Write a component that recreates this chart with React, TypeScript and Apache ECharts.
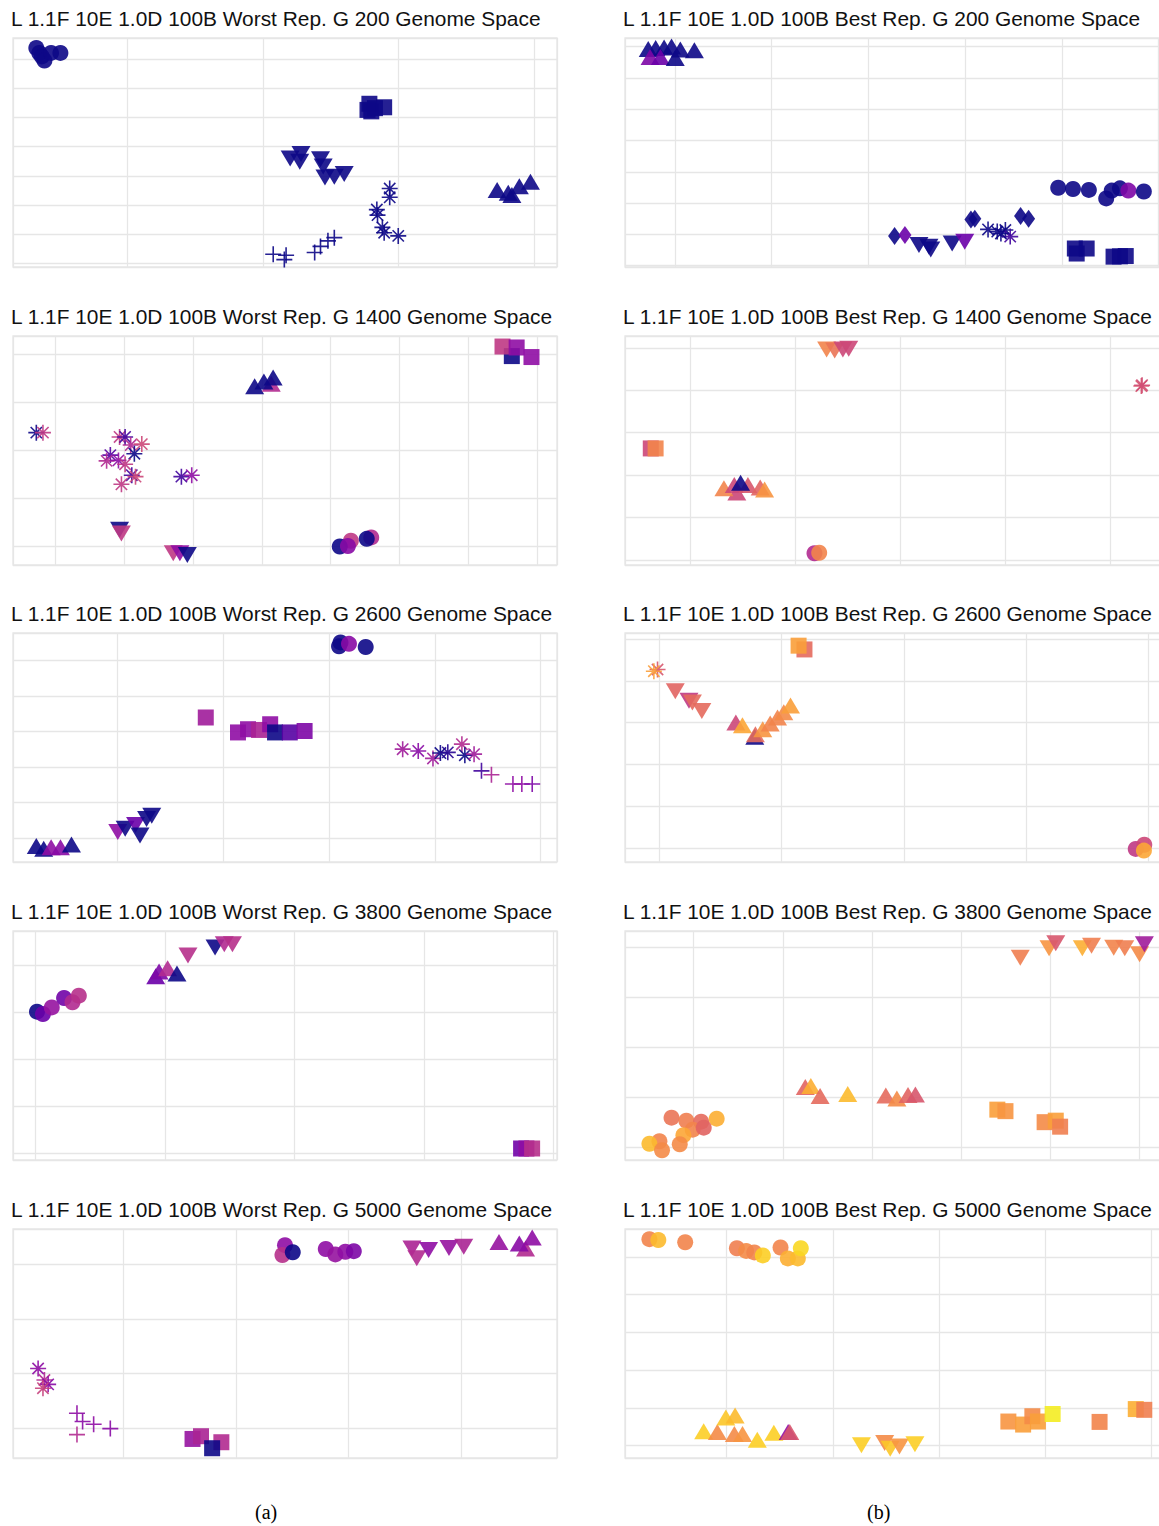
import React, { useEffect, useRef } from "react";
import * as echarts from "echarts";

// plasma colour scale (value 0 .. 1)
const PLASMA = ["#0d0887", "#41049d", "#6a00a8", "#8f0da4", "#b12a90", "#cc4778", "#e16462", "#f2844b", "#fca636", "#fcce25", "#f0f921"];

// ---------- Worst Rep. G 200 ----------
const W200_X = [-0.847, 3.169];
const W200_Y = [-0.114, 7.72];
const W200_CIRCLE = [[-0.675, 7.38, 0], [-0.653, 7.21, 0], [-0.634, 7.09, 0], [-0.615, 6.95, 0], [-0.566, 7.21, 0], [-0.497, 7.21, 0]];
const W200_SQUARE = [[1.784, 5.47, 0], [1.798, 5.21, 0], [1.893, 5.35, 0], [1.825, 5.32, 0], [1.77, 5.26, 0]];
const W200_TRIDOWN = [[1.199, 3.6, 0], [1.279, 3.75, 0], [1.27, 3.49, 0], [1.423, 3.57, 0], [1.443, 3.32, 0], [1.456, 2.95, 0], [1.525, 2.97, 0], [1.598, 3.07, 0]];
const W200_TRIUP = [[2.727, 2.52, 0], [2.809, 2.43, 0], [2.836, 2.35, 0], [2.891, 2.65, 0], [2.973, 2.8, 0]];
const W200_ASTER = [[1.934, 2.57, 0], [1.934, 2.27, 0], [1.839, 1.85, 0], [1.844, 1.66, 0], [1.88, 1.24, 0], [1.893, 1.06, 0], [1.997, 0.95, 0]];
const W200_PLUS = [[1.074, 0.32, 0], [1.169, 0.29, 0], [1.156, 0.14, 0], [1.38, 0.38, 0], [1.423, 0.59, 0], [1.478, 0.78, 0], [1.525, 0.89, 0]];

// ---------- Best Rep. G 200 ----------
const B200_X = [-0.515, 5.107];
const B200_Y = [-0.04, 7.27];
const B200_TRIUP = [[-0.275, 6.92, 0], [-0.198, 6.95, 0], [-0.111, 6.97, 0], [-0.034, 7.0, 0], [0.057, 6.9, 0], [0.202, 6.88, 0], [-0.256, 6.66, 0.25], [-0.149, 6.66, 0.2], [0.004, 6.63, 0]];
const B200_CIRCLE = [[3.962, 2.49, 0], [4.115, 2.45, 0], [4.279, 2.42, 0], [4.458, 2.15, 0], [4.515, 2.4, 0], [4.6, 2.47, 0], [4.687, 2.4, 0.25], [4.847, 2.37, 0]];
const B200_DIAMOND = [[2.271, 0.95, 0], [2.378, 0.98, 0.2], [3.06, 1.48, 0], [3.1, 1.5, 0], [3.573, 1.59, 0], [3.656, 1.5, 0]];
const B200_TRIDOWN = [[2.523, 0.66, 0], [2.626, 0.61, 0], [2.645, 0.52, 0], [2.866, 0.71, 0], [2.996, 0.77, 0.2]];
const B200_ASTER = [[3.237, 1.16, 0], [3.332, 1.09, 0], [3.416, 1.14, 0], [3.466, 0.93, 0.1], [3.37, 1.03, 0]];
const B200_SQUARE = [[4.134, 0.55, 0], [4.256, 0.55, 0], [4.153, 0.39, 0], [4.534, 0.29, 0], [4.6, 0.3, 0], [4.66, 0.31, 0]];

// ---------- Worst Rep. G 1400 ----------
const W1400_X = [-0.606, 7.28];
const W1400_Y = [-0.397, 4.39];
const W1400_SQUARE = [[6.625, 3.97, 0], [6.49, 4.17, 0.45], [6.695, 4.15, 0.3], [6.91, 3.95, 0.3]];
const W1400_TRIUP = [[2.897, 3.34, 0], [3.138, 3.39, 0.4], [3.031, 3.44, 0], [3.165, 3.52, 0]];
const W1400_ASTER = [[-0.268, 2.37, 0], [-0.172, 2.37, 0.45], [0.939, 2.28, 0.45], [1.019, 2.28, 0.1], [1.1, 2.11, 0.4], [1.261, 2.13, 0.5], [1.153, 1.93, 0], [0.805, 1.9, 0.15], [0.751, 1.78, 0.4], [0.923, 1.79, 0.3], [1.019, 1.71, 0.45], [1.116, 1.48, 0.1], [1.17, 1.45, 0.5], [0.966, 1.29, 0.45], [1.835, 1.45, 0.1], [1.985, 1.48, 0.3]];
const W1400_TRIDOWN = [[0.939, 0.34, 0], [0.965, 0.26, 0.45], [1.717, -0.15, 0.45], [1.813, -0.15, 0.3], [1.921, -0.19, 0]];
const W1400_CIRCLE = [[4.292, 0.11, 0.45], [4.131, -0.01, 0], [4.249, 0.0, 0.28], [4.587, 0.18, 0.4], [4.522, 0.15, 0]];

// ---------- Best Rep. G 1400 ----------
const B1400_X = [-0.627, 4.564];
const B1400_Y = [-0.118, 5.28];
const B1400_TRIDOWN = [[1.297, 4.96, 0.7], [1.374, 4.94, 0.65], [1.452, 4.96, 0.5], [1.508, 4.98, 0.5]];
const B1400_ASTER = [[4.3, 4.1, 0.55], [4.307, 4.12, 0.52]];
const B1400_SQUARE = [[-0.381, 2.63, 0.5], [-0.335, 2.63, 0.7]];
const B1400_TRIUP = [[0.44, 1.59, 0.5], [0.317, 1.69, 0.7], [0.416, 1.77, 0.5], [0.546, 1.77, 0.55], [0.663, 1.71, 0.6], [0.705, 1.66, 0.75], [0.476, 1.82, 0]];
const B1400_CIRCLE = [[1.181, 0.16, 0.4], [1.226, 0.17, 0.7]];

// ---------- Worst Rep. G 2600 ----------
const W2600_X = [-0.982, 4.154];
const W2600_Y = [-0.672, 5.765];
const W2600_CIRCLE = [[2.11, 5.5, 0], [2.096, 5.39, 0], [2.19, 5.46, 0.28], [2.348, 5.37, 0]];
const W2600_SQUARE = [[0.838, 3.39, 0.35], [1.142, 2.97, 0.3], [1.237, 3.06, 0.3], [1.341, 3.04, 0.38], [1.446, 3.2, 0.3], [1.492, 2.97, 0], [1.631, 2.97, 0.15], [1.771, 3.01, 0.25]];
const W2600_ASTER = [[2.697, 2.5, 0.35], [2.844, 2.45, 0.28], [2.983, 2.24, 0.35], [3.053, 2.39, 0], [3.123, 2.41, 0.05], [3.256, 2.64, 0.4], [3.284, 2.33, 0], [3.371, 2.36, 0.35]];
const W2600_PLUS = [[3.441, 1.89, 0.1], [3.535, 1.78, 0.38], [3.738, 1.52, 0.3], [3.822, 1.52, 0.3], [3.92, 1.52, 0.25]];
const W2600_TRIDOWN = [[0.007, 0.17, 0.3], [0.077, 0.26, 0], [0.175, 0.37, 0.2], [0.217, 0.07, 0], [0.279, 0.54, 0], [0.328, 0.63, 0]];
const W2600_TRIUP = [[-0.762, -0.22, 0], [-0.692, -0.3, 0], [-0.622, -0.26, 0.3], [-0.534, -0.26, 0.28], [-0.43, -0.18, 0]];

// ---------- Best Rep. G 2600 ----------
const B2600_X = [-0.281, 4.166];
const B2600_Y = [-0.333, 5.143];
const B2600_SQUARE = [[1.186, 4.75, 0.62], [1.138, 4.84, 0.78]];
const B2600_ASTER = [[-0.015, 4.27, 0.55], [-0.045, 4.23, 0.78]];
const B2600_TRIDOWN = [[0.13, 3.75, 0.6], [0.242, 3.52, 0.45], [0.27, 3.48, 0.62], [0.347, 3.28, 0.62]];
const B2600_TRIUP = [[0.78, 2.66, 0], [0.625, 3.0, 0.5], [0.679, 2.94, 0.8], [0.785, 2.72, 0.62], [0.845, 2.84, 0.75], [0.906, 2.98, 0.7], [0.966, 3.12, 0.7], [1.017, 3.25, 0.72], [1.072, 3.41, 0.78]];
const B2600_CIRCLE = [[3.894, -0.02, 0.45], [3.964, 0.08, 0.5], [3.961, -0.06, 0.8]];

// ---------- Worst Rep. G 3800 ----------
const W3800_X = [-0.171, 4.026];
const W3800_Y = [-0.134, 4.72];
const W3800_CIRCLE = [[0.014, 3.01, 0], [0.06, 2.96, 0.2], [0.128, 3.1, 0.32], [0.223, 3.3, 0.22], [0.288, 3.21, 0.4], [0.337, 3.35, 0.42]];
const W3800_TRIUP = [[0.93, 3.76, 0.2], [0.956, 3.86, 0.25], [1.022, 3.93, 0.4], [1.094, 3.82, 0]];
const W3800_TRIDOWN = [[1.179, 4.2, 0.42], [1.388, 4.37, 0], [1.459, 4.44, 0.4], [1.522, 4.44, 0.42]];
const W3800_SQUARE = [[3.749, 0.11, 0.22], [3.79, 0.11, 0.3], [3.834, 0.11, 0.42]];

// ---------- Best Rep. G 3800 ----------
const B3800_X = [-0.771, 5.33];
const B3800_Y = [-0.245, 4.325];
const B3800_TRIDOWN = [[3.662, 3.79, 0.68], [3.985, 3.98, 0.75], [4.06, 4.08, 0.55], [4.358, 3.98, 0.82], [4.461, 4.03, 0.68], [4.71, 3.99, 0.7], [4.834, 3.98, 0.68], [5.0, 3.86, 0.72], [5.054, 4.06, 0.35]];
const B3800_TRIUP = [[1.251, 1.21, 0.6], [1.313, 1.23, 0.82], [1.417, 1.03, 0.62], [1.727, 1.07, 0.85], [2.154, 1.04, 0.62], [2.278, 0.98, 0.72], [2.403, 1.05, 0.6], [2.486, 1.06, 0.55]];
const B3800_SQUARE = [[3.405, 0.76, 0.78], [3.496, 0.73, 0.75], [3.935, 0.51, 0.72], [4.06, 0.54, 0.78], [4.109, 0.42, 0.68]];
const B3800_CIRCLE = [[-0.249, 0.6, 0.65], [-0.083, 0.54, 0.68], [0.083, 0.52, 0.62], [0.257, 0.58, 0.82], [-0.012, 0.36, 0.7], [0.112, 0.4, 0.6], [-0.116, 0.25, 0.8], [-0.157, 0.07, 0.72], [-0.385, 0.13, 0.7], [-0.497, 0.08, 0.85], [-0.356, -0.05, 0.72]];

// ---------- Worst Rep. G 5000 ----------
const W5000_X = [-0.979, 3.851];
const W5000_Y = [-0.549, 3.646];
const W5000_CIRCLE = [[1.436, 3.35, 0.3], [1.413, 3.17, 0.42], [1.505, 3.22, 0], [1.798, 3.28, 0.3], [1.883, 3.18, 0.32], [1.972, 3.23, 0.3], [2.047, 3.24, 0.25]];
const W5000_TRIDOWN = [[2.563, 3.29, 0.38], [2.606, 3.11, 0.4], [2.711, 3.26, 0.3], [2.892, 3.3, 0.32], [3.023, 3.32, 0.38]];
const W5000_TRIUP = [[3.336, 3.41, 0.32], [3.572, 3.29, 0.4], [3.516, 3.38, 0.28], [3.631, 3.49, 0.3]];
const W5000_ASTER = [[-0.756, 1.09, 0.3], [-0.7, 0.88, 0.4], [-0.667, 0.8, 0.28], [-0.713, 0.73, 0.48]];
const W5000_PLUS = [[-0.411, 0.27, 0.3], [-0.361, 0.12, 0.28], [-0.263, 0.07, 0.3], [-0.115, -0.01, 0.28], [-0.411, -0.12, 0.4]];
const W5000_SQUARE = [[0.615, -0.2, 0.32], [0.69, -0.15, 0.38], [0.871, -0.26, 0.4], [0.789, -0.37, 0]];

// ---------- Best Rep. G 5000 ----------
const B5000_X = [-0.957, 4.167];
const B5000_Y = [-0.326, 5.74];
const B5000_CIRCLE = [[-0.727, 5.47, 0.7], [-0.643, 5.45, 0.85], [-0.39, 5.39, 0.7], [0.097, 5.23, 0.68], [0.184, 5.16, 0.72], [0.261, 5.12, 0.7], [0.341, 5.04, 0.9], [0.508, 5.25, 0.7], [0.577, 4.96, 0.82], [0.671, 4.96, 0.85], [0.699, 5.23, 0.92]];
const B5000_TRIUP = [[-0.216, 0.38, 0.9], [-0.087, 0.36, 0.72], [-0.007, 0.75, 0.88], [0.08, 0.8, 0.85], [0.073, 0.31, 0.72], [0.15, 0.31, 0.75], [0.289, 0.16, 0.9], [0.445, 0.34, 0.9], [0.58, 0.36, 0.3], [0.595, 0.36, 0.55]];
const B5000_TRIDOWN = [[1.27, 0.01, 0.9], [1.489, 0.07, 0.72], [1.541, -0.08, 0.88], [1.628, -0.02, 0.75], [1.774, 0.04, 0.9]];
const B5000_SQUARE = [[2.654, 0.64, 0.75], [2.793, 0.56, 0.78], [2.88, 0.78, 0.72], [2.932, 0.64, 0.78], [3.071, 0.84, 0.97], [3.513, 0.63, 0.7], [3.854, 0.97, 0.82], [3.934, 0.95, 0.68]];

const TITLE_PREFIX = "L 1.1F 10E 1.0D 100B";
const GENERATIONS = [200, 1400, 2600, 3800, 5000];
const REPS = ["Worst", "Best"];
const CAPTIONS = ["(a)", "(b)"];

const ASTERISK_PATH =
  "path://M9,0H11V9H20V11H11V20H9V11H0V9H9Z M3.64,2.22L17.78,16.36L16.36,17.78L2.22,3.64Z M17.78,3.64L3.64,17.78L2.22,16.36L16.36,2.22Z";
const PLUS_PATH = "path://M9,0H11V9H20V11H11V20H9V11H0V9H9Z";

const SHAPES: Record<string, { symbol: string; size: any }> = {
  circle: { symbol: "circle", size: 16 },
  square: { symbol: "rect", size: 16 },
  triUp: { symbol: "triangle", size: [19, 16] },
  triDown: { symbol: "path://M0,0L19,0L9.5,16Z", size: [19, 16] },
  diamond: { symbol: "diamond", size: [13, 18] },
  asterisk: { symbol: ASTERISK_PATH, size: 16 },
  plus: { symbol: PLUS_PATH, size: 16 },
};

const PANELS = [
  { rep: 0, row: 0, x: W200_X, y: W200_Y, layers: [["circle", W200_CIRCLE], ["square", W200_SQUARE], ["triDown", W200_TRIDOWN], ["triUp", W200_TRIUP], ["asterisk", W200_ASTER], ["plus", W200_PLUS]] },
  { rep: 1, row: 0, x: B200_X, y: B200_Y, layers: [["triUp", B200_TRIUP], ["circle", B200_CIRCLE], ["diamond", B200_DIAMOND], ["triDown", B200_TRIDOWN], ["asterisk", B200_ASTER], ["square", B200_SQUARE]] },
  { rep: 0, row: 1, x: W1400_X, y: W1400_Y, layers: [["square", W1400_SQUARE], ["triUp", W1400_TRIUP], ["asterisk", W1400_ASTER], ["triDown", W1400_TRIDOWN], ["circle", W1400_CIRCLE]] },
  { rep: 1, row: 1, x: B1400_X, y: B1400_Y, layers: [["triDown", B1400_TRIDOWN], ["asterisk", B1400_ASTER], ["square", B1400_SQUARE], ["triUp", B1400_TRIUP], ["circle", B1400_CIRCLE]] },
  { rep: 0, row: 2, x: W2600_X, y: W2600_Y, layers: [["circle", W2600_CIRCLE], ["square", W2600_SQUARE], ["asterisk", W2600_ASTER], ["plus", W2600_PLUS], ["triDown", W2600_TRIDOWN], ["triUp", W2600_TRIUP]] },
  { rep: 1, row: 2, x: B2600_X, y: B2600_Y, layers: [["square", B2600_SQUARE], ["asterisk", B2600_ASTER], ["triDown", B2600_TRIDOWN], ["triUp", B2600_TRIUP], ["circle", B2600_CIRCLE]] },
  { rep: 0, row: 3, x: W3800_X, y: W3800_Y, layers: [["circle", W3800_CIRCLE], ["triUp", W3800_TRIUP], ["triDown", W3800_TRIDOWN], ["square", W3800_SQUARE]] },
  { rep: 1, row: 3, x: B3800_X, y: B3800_Y, layers: [["triDown", B3800_TRIDOWN], ["triUp", B3800_TRIUP], ["square", B3800_SQUARE], ["circle", B3800_CIRCLE]] },
  { rep: 0, row: 4, x: W5000_X, y: W5000_Y, layers: [["circle", W5000_CIRCLE], ["triDown", W5000_TRIDOWN], ["triUp", W5000_TRIUP], ["asterisk", W5000_ASTER], ["plus", W5000_PLUS], ["square", W5000_SQUARE]] },
  { rep: 1, row: 4, x: B5000_X, y: B5000_Y, layers: [["circle", B5000_CIRCLE], ["triUp", B5000_TRIUP], ["triDown", B5000_TRIDOWN], ["square", B5000_SQUARE]] },
];

const COL_LEFT = [13, 625];
const ROW_TOP = [38, 336, 633, 931, 1229];
const PLOT_W = 544;
const PLOT_H = 229;
const GRID_COLOR = "#e6e6e6";

function buildOption() {
  const titles: any[] = PANELS.map((p) => ({
    text: `${TITLE_PREFIX} ${REPS[p.rep]} Rep. G ${GENERATIONS[p.row]} Genome Space`,
    left: COL_LEFT[p.rep] - 2,
    top: ROW_TOP[p.row] - 30,
    padding: 0,
    textStyle: { fontFamily: "Liberation Sans", fontSize: 20.9, fontWeight: "normal", color: "#111" },
  }));
  CAPTIONS.forEach((c, i) => {
    titles.push({
      text: c,
      left: i === 0 ? 255 : 867,
      top: 1502,
      padding: 0,
      textStyle: { fontFamily: "Liberation Serif", fontSize: 20, fontWeight: "normal", color: "#000" },
    });
  });

  const grid = PANELS.map((p) => ({
    left: COL_LEFT[p.rep],
    top: ROW_TOP[p.row],
    width: PLOT_W,
    height: PLOT_H,
    show: true,
    borderColor: GRID_COLOR,
    borderWidth: 1.3,
    backgroundColor: "transparent",
    containLabel: false,
    outerBoundsMode: "none",
  }));

  const axisCommon = {
    type: "value",
    minInterval: 1,
    maxInterval: 1,
    axisLine: { show: false },
    axisTick: { show: false },
    axisLabel: { show: false },
    splitLine: { show: true, lineStyle: { color: GRID_COLOR, width: 1.3 } },
  };

  const xAxis = PANELS.map((p, i) => ({ ...axisCommon, gridIndex: i, min: p.x[0], max: p.x[1] }));
  const yAxis = PANELS.map((p, i) => ({ ...axisCommon, gridIndex: i, min: p.y[0], max: p.y[1] }));

  const series: any[] = [];
  PANELS.forEach((p, i) => {
    p.layers.forEach(([shape, data]: any) => {
      const s = SHAPES[shape];
      series.push({
        type: "scatter",
        xAxisIndex: i,
        yAxisIndex: i,
        data,
        symbol: s.symbol,
        symbolSize: s.size,
        itemStyle: { opacity: 0.9 },
        silent: true,
        clip: false,
      });
    });
  });

  return {
    animation: false,
    backgroundColor: "#ffffff",
    title: titles,
    grid,
    xAxis,
    yAxis,
    visualMap: {
      type: "continuous",
      show: false,
      min: 0,
      max: 1,
      dimension: 2,
      inRange: { color: PLASMA },
    },
    series,
  };
}

export default function App() {
  const ref = useRef<HTMLDivElement>(null);
  useEffect(() => {
    if (!ref.current) return;
    const chart = echarts.init(ref.current, undefined, { renderer: "svg" });
    chart.setOption(buildOption() as any);
    return () => chart.dispose();
  }, []);
  return (
    <div
      ref={ref}
      style={{ position: "absolute", left: 0, top: 0, width: 1159, height: 1526, background: "#fff" }}
    />
  );
}
